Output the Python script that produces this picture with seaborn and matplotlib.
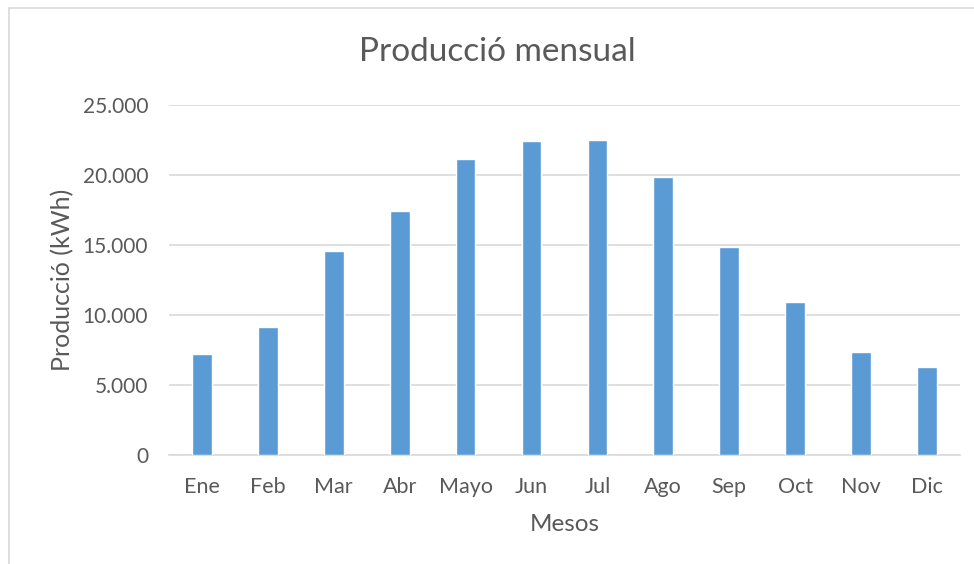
import matplotlib
matplotlib.use("Agg")
import matplotlib.pyplot as plt
from matplotlib.lines import Line2D
from matplotlib.ticker import FuncFormatter
import pandas as pd
import seaborn as sns

months = ["Ene", "Feb", "Mar", "Abr", "Mayo", "Jun", "Jul", "Ago", "Sep", "Oct", "Nov", "Dic"]
production = [7190, 9140, 14570, 17400, 21170, 22400, 22520, 19830, 14830, 10930, 7360, 6310]
y_ticks = [0, 5000, 10000, 15000, 20000, 25000]

TEXT = "#595959"
GRID = "#d9d9d9"
BAR = "#5b9bd5"


def main() -> None:
    sns.set_theme(style="white")
    plt.rcParams["font.family"] = ["Lato", "DejaVu Sans"]

    df = pd.DataFrame({"mes": months, "kwh": production})

    fig = plt.figure(figsize=(9.74, 5.64), dpi=100)
    ax = fig.add_axes([0.1735, 0.1933, 0.812, 0.6205])

    sns.barplot(data=df, x="mes", y="kwh", color=BAR, width=0.3,
                saturation=1, ax=ax, zorder=3)

    ax.set_ylim(0, 25000)
    ax.set_yticks(y_ticks)
    ax.yaxis.set_major_formatter(FuncFormatter(lambda v, _: f"{int(v):,}".replace(",", ".")))
    ax.grid(axis="y", color=GRID, linewidth=1.2, zorder=0)
    ax.set_axisbelow(True)
    for side in ["top", "right", "left"]:
        ax.spines[side].set_visible(False)
    ax.spines["bottom"].set_color(GRID)
    ax.spines["bottom"].set_linewidth(1.2)
    ax.tick_params(axis="both", length=0, colors=TEXT)
    ax.tick_params(axis="x", pad=16, labelsize=15.5)
    ax.tick_params(axis="y", pad=15, labelsize=15)

    ax.set_xlabel("Mesos", fontsize=17.5, color=TEXT, labelpad=12)
    ax.set_ylabel("Producció (kWh)", fontsize=18, color=TEXT, labelpad=6)
    fig.text(0.511, 0.907, "Producció mensual", ha="center", va="center",
             fontsize=24, color=TEXT)

    # chart frame (cropped at right and bottom)
    fig.add_artist(Line2D([0.009, 1.0], [0.986, 0.986], color=GRID, linewidth=1.2))
    fig.add_artist(Line2D([0.009, 0.009], [0.0, 0.986], color=GRID, linewidth=1.2))

    fig.savefig("out.png", dpi=100)
    plt.close(fig)


if __name__ == "__main__":
    main()
